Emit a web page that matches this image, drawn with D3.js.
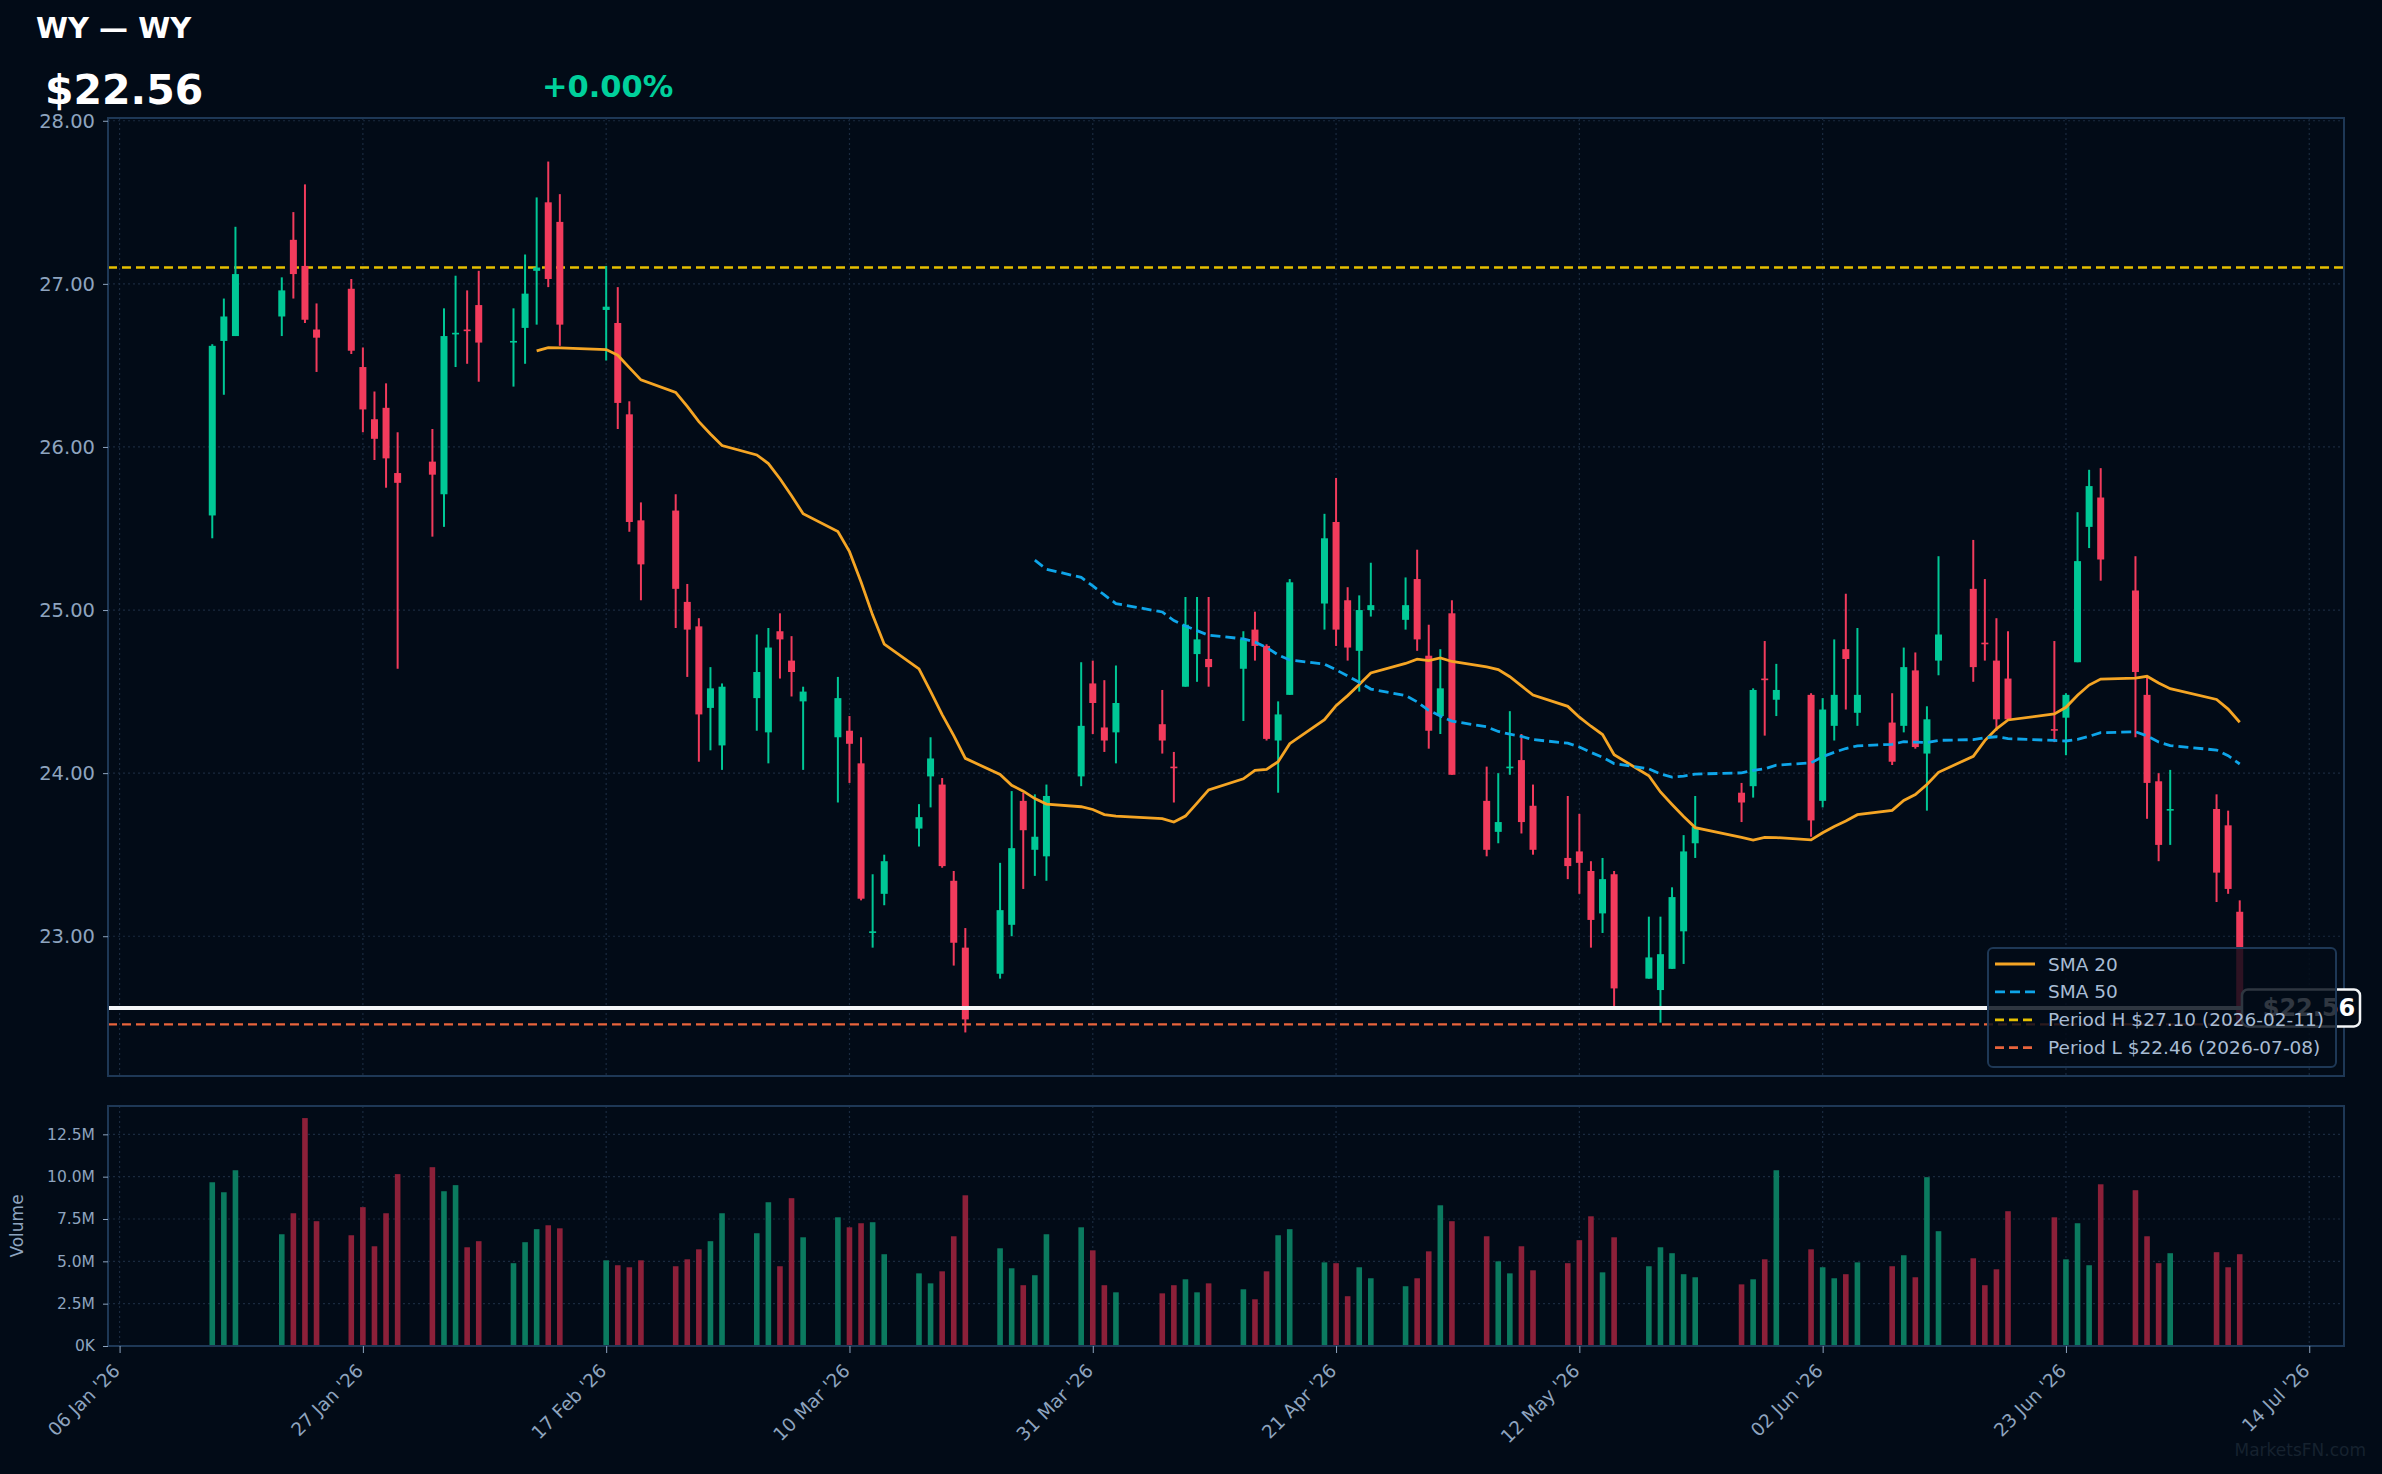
<!DOCTYPE html>
<html>
<head>
<meta charset="utf-8">
<title>WY candlestick</title>
<script src="https://cdn.jsdelivr.net/npm/d3@7"></script>
<style>
  body { margin: 0; padding: 0; background: #020b17; }
  svg { display: block; font-family: "DejaVu Sans", sans-serif; }
</style>
</head>
<body>
<svg id="chart" width="2382" height="1474"></svg>
<script>
// ---- data ----
const symbol = "WY";
const lastPrice = 22.56;
const changePct = 0.00;
const periodHigh = 27.10, periodHighDate = "2026-02-11";
const periodLow = 22.46, periodLowDate = "2026-07-08";

const dates = [
  "2026-01-14","2026-01-15","2026-01-16","2026-01-20","2026-01-21","2026-01-22","2026-01-23",
  "2026-01-26","2026-01-27","2026-01-28","2026-01-29","2026-01-30",
  "2026-02-02","2026-02-03","2026-02-04","2026-02-05","2026-02-06",
  "2026-02-09","2026-02-10","2026-02-11","2026-02-12","2026-02-13",
  "2026-02-17","2026-02-18","2026-02-19","2026-02-20",
  "2026-02-23","2026-02-24","2026-02-25","2026-02-26","2026-02-27",
  "2026-03-02","2026-03-03","2026-03-04","2026-03-05","2026-03-06",
  "2026-03-09","2026-03-10","2026-03-11","2026-03-12","2026-03-13",
  "2026-03-16","2026-03-17","2026-03-18","2026-03-19","2026-03-20",
  "2026-03-23","2026-03-24","2026-03-25","2026-03-26","2026-03-27",
  "2026-03-30","2026-03-31","2026-04-01","2026-04-02",
  "2026-04-06","2026-04-07","2026-04-08","2026-04-09","2026-04-10",
  "2026-04-13","2026-04-14","2026-04-15","2026-04-16","2026-04-17",
  "2026-04-20","2026-04-21","2026-04-22","2026-04-23","2026-04-24",
  "2026-04-27","2026-04-28","2026-04-29","2026-04-30","2026-05-01",
  "2026-05-04","2026-05-05","2026-05-06","2026-05-07","2026-05-08",
  "2026-05-11","2026-05-12","2026-05-13","2026-05-14","2026-05-15",
  "2026-05-18","2026-05-19","2026-05-20","2026-05-21","2026-05-22",
  "2026-05-26","2026-05-27","2026-05-28","2026-05-29",
  "2026-06-01","2026-06-02","2026-06-03","2026-06-04","2026-06-05",
  "2026-06-08","2026-06-09","2026-06-10","2026-06-11","2026-06-12",
  "2026-06-15","2026-06-16","2026-06-17","2026-06-18",
  "2026-06-22","2026-06-23","2026-06-24","2026-06-25","2026-06-26",
  "2026-06-29","2026-06-30","2026-07-01","2026-07-02",
  "2026-07-06","2026-07-07","2026-07-08"
];

const opens = [
  25.58,26.65,26.68,26.80,27.27,27.11,26.72,26.97,26.49,26.17,26.24,25.84,
  25.91,25.71,26.69,26.72,26.87,26.64,26.73,27.08,27.50,27.38,
  26.84,26.76,26.20,25.55,25.61,25.05,24.90,24.40,24.17,
  24.46,24.25,24.87,24.69,24.44,24.22,24.26,24.06,23.02,23.26,
  23.66,23.98,23.93,23.34,22.93,22.77,23.07,23.83,23.53,23.49,
  23.98,24.55,24.28,24.25,24.30,24.04,24.53,24.73,24.70,
  24.64,24.88,24.78,24.20,24.48,25.04,25.54,25.06,24.75,25.00,
  24.94,25.19,24.72,24.35,24.98,23.83,23.64,24.03,24.08,23.80,
  23.48,23.52,23.40,23.14,23.38,22.74,22.67,22.80,23.03,23.57,
  23.88,23.92,24.58,24.45,24.48,23.83,24.29,24.76,24.37,
  24.31,24.29,24.63,24.12,24.69,25.13,24.80,24.69,24.58,
  24.27,24.34,24.68,25.51,25.69,25.12,24.48,23.95,23.77,23.78,23.68,23.15
];
const highs = [
  26.63,26.91,27.35,27.04,27.44,27.61,26.88,27.03,26.61,26.34,26.39,26.09,
  26.11,26.85,27.05,26.96,27.08,26.85,27.18,27.53,27.75,27.55,
  27.11,26.98,26.28,25.66,25.71,25.16,24.95,24.65,24.55,
  24.85,24.89,24.98,24.84,24.53,24.59,24.35,24.22,23.38,23.50,
  23.81,24.22,23.97,23.40,23.05,23.45,23.89,23.88,23.87,23.93,
  24.68,24.69,24.57,24.66,24.51,24.13,25.08,25.08,25.08,
  24.87,24.99,24.79,24.44,25.19,25.59,25.81,25.14,25.09,25.29,
  25.20,25.37,24.91,24.76,25.06,24.04,24.00,24.38,24.24,23.93,
  23.86,23.75,23.46,23.48,23.40,23.12,23.12,23.30,23.62,23.86,
  23.94,24.52,24.81,24.67,24.49,24.46,24.82,25.10,24.89,
  24.49,24.77,24.74,24.41,25.33,25.43,25.19,24.95,24.87,
  24.81,24.49,25.60,25.86,25.87,25.33,24.59,24.00,24.02,23.87,23.77,23.22
];
const lows = [
  25.44,26.32,26.68,26.68,26.91,26.76,26.46,26.57,26.09,25.92,25.75,24.64,
  25.45,25.51,26.49,26.51,26.40,26.37,26.51,26.75,26.98,26.62,
  26.53,26.11,25.48,25.06,24.89,24.59,24.07,24.14,24.02,
  24.26,24.06,24.58,24.47,24.02,23.82,23.94,23.22,22.93,23.19,
  23.55,23.79,23.42,22.82,22.41,22.74,23.00,23.29,23.37,23.34,
  23.92,24.24,24.13,24.06,24.12,23.82,24.53,24.56,24.53,
  24.32,24.69,24.20,23.88,24.48,24.88,24.78,24.69,24.50,24.96,
  24.88,24.75,24.15,24.24,23.99,23.49,23.57,23.99,23.63,23.50,
  23.35,23.26,22.93,23.02,22.57,22.74,22.47,22.80,22.83,23.48,
  23.70,23.85,24.23,24.35,23.61,23.79,24.20,24.39,24.29,
  24.05,24.25,24.15,23.77,24.60,24.56,24.69,24.26,24.33,
  24.19,24.11,24.68,25.38,25.18,24.22,23.72,23.46,23.56,23.21,23.26,22.46
];
const closes = [
  26.62,26.80,27.06,26.96,27.06,26.78,26.67,26.59,26.23,26.05,25.93,25.78,
  25.83,26.68,26.70,26.71,26.64,26.65,26.94,27.10,27.03,26.75,
  26.86,26.27,25.54,25.28,25.13,24.88,24.36,24.52,24.53,
  24.62,24.77,24.82,24.62,24.50,24.46,24.18,23.23,23.03,23.46,
  23.73,24.09,23.43,22.96,22.49,23.16,23.54,23.65,23.61,23.86,
  24.29,24.43,24.20,24.43,24.20,24.03,24.91,24.82,24.65,
  24.82,24.78,24.21,24.36,25.17,25.44,24.88,24.77,25.00,25.03,
  25.03,24.82,24.26,24.52,23.99,23.53,23.70,24.04,23.70,23.53,
  23.43,23.45,23.10,23.35,22.68,22.87,22.89,23.24,23.52,23.67,
  23.82,24.51,24.57,24.51,23.71,24.39,24.48,24.70,24.48,
  24.07,24.65,24.16,24.33,24.85,24.65,24.79,24.33,24.33,
  24.26,24.48,25.30,25.76,25.31,24.62,23.94,23.56,23.78,23.39,23.29,22.46
];
// volume in millions of shares
const volumes = [
  9.67,9.08,10.38,6.60,7.84,13.46,7.37,6.54,8.20,5.89,7.84,10.15,
  10.56,9.14,9.50,5.83,6.19,4.89,6.13,6.90,7.13,6.95,
  5.06,4.77,4.65,5.06,4.71,5.12,5.71,6.19,7.84,
  6.66,8.49,4.71,8.73,6.42,7.60,7.01,7.25,7.31,5.42,
  4.29,3.70,4.41,6.48,8.90,5.77,4.59,3.59,4.18,6.60,
  7.01,5.65,3.59,3.17,3.11,3.59,3.94,3.17,3.70,
  3.35,2.76,4.41,6.54,6.90,4.94,4.89,2.94,4.65,4.00,
  3.53,4.00,5.59,8.31,7.37,6.48,5.00,4.29,5.89,4.47,
  4.89,6.25,7.66,4.35,6.42,4.71,5.83,5.48,4.24,4.06,
  3.64,3.94,5.12,10.38,5.71,4.65,4.00,4.24,4.94,
  4.71,5.36,4.06,9.97,6.78,5.18,3.59,4.53,7.96,
  7.60,5.12,7.25,4.77,9.55,9.20,6.48,4.89,5.48,5.54,4.65,5.42
];

const xTickDates = ["2026-01-06","2026-01-27","2026-02-17","2026-03-10","2026-03-31",
                    "2026-04-21","2026-05-12","2026-06-02","2026-06-23","2026-07-14"];
const priceTicks = [23, 24, 25, 26, 27, 28];
const volumeTicks = [0, 2.5, 5, 7.5, 10, 12.5];

// ---- layout ----
const W = 2382, H = 1474;
const L = 108, R = 2344;
const pTop = 118, pBot = 1076;
const vTop = 1106, vBot = 1346;

const C = {
  bg: "#020b17", frame: "#1e3856", grid: "#1a2a3f", text: "#8ea4bf",
  up: "#00c896", down: "#f23b5c", volUp: "#0b7a5f", volDown: "#8c2039",
  sma20: "#f5a524", sma50: "#0ea5e9", hi: "#e6c000", lo: "#e8643c"
};

const parse = d3.utcParse("%Y-%m-%d");
const rows = dates.map((d, i) => ({
  date: parse(d), o: opens[i], h: highs[i], l: lows[i], c: closes[i], v: volumes[i]
}));

function sma(n) {
  return closes.map((c, i) => i < n - 1 ? null : d3.mean(closes.slice(i - n + 1, i + 1)));
}
const sma20 = sma(20), sma50 = sma(50);

const svg = d3.select("#chart");
svg.append("rect").attr("width", W).attr("height", H).attr("fill", C.bg);

// scales
const pad = 9 * 864e5;
const x = d3.scaleUtc()
  .domain([+rows[0].date - pad, +rows[rows.length - 1].date + pad])
  .range([L, R]);
const lo = d3.min(lows), hi = d3.max(highs), m = (hi - lo) * 0.05;
const y = d3.scaleLinear().domain([lo - m, hi + m]).range([pBot, pTop]);
const yv = d3.scaleLinear().domain([0, d3.max(volumes) * 1.053]).range([vBot, vTop]);

const xTicks = xTickDates.map(parse);
const fmtX = d3.utcFormat("%d %b '%y");

// grid
const grid = svg.append("g").attr("stroke", C.grid).attr("stroke-width", 1.2)
  .attr("stroke-dasharray", "2,3");
grid.selectAll(".gy").data(priceTicks).join("line")
  .attr("x1", L).attr("x2", R).attr("y1", d => y(d)).attr("y2", d => y(d));
grid.selectAll(".gv").data(volumeTicks.slice(1)).join("line")
  .attr("x1", L).attr("x2", R).attr("y1", d => yv(d)).attr("y2", d => yv(d));
grid.selectAll(".gx").data(xTicks).join("line")
  .attr("x1", d => x(d)).attr("x2", d => x(d)).attr("y1", pTop).attr("y2", pBot);
grid.selectAll(".gx2").data(xTicks).join("line")
  .attr("x1", d => x(d)).attr("x2", d => x(d)).attr("y1", vTop).attr("y2", vBot);

// period high / low lines
svg.append("line").attr("x1", L).attr("x2", R).attr("y1", y(periodHigh)).attr("y2", y(periodHigh))
  .attr("stroke", C.hi).attr("stroke-width", 2.5).attr("stroke-dasharray", "9,5");
svg.append("line").attr("x1", L).attr("x2", R).attr("y1", y(periodLow)).attr("y2", y(periodLow))
  .attr("stroke", C.lo).attr("stroke-width", 2.2).attr("stroke-dasharray", "9,5");

// candles
const cg = svg.append("g");
cg.selectAll("line").data(rows).join("line")
  .attr("x1", d => x(d.date)).attr("x2", d => x(d.date))
  .attr("y1", d => y(d.h)).attr("y2", d => y(d.l))
  .attr("stroke", d => d.c >= d.o ? C.up : C.down).attr("stroke-width", 2);
cg.selectAll("rect").data(rows).join("rect")
  .attr("x", d => x(d.date) - 3.5).attr("width", 7)
  .attr("y", d => y(Math.max(d.o, d.c)))
  .attr("height", d => Math.max(1.5, Math.abs(y(d.o) - y(d.c))))
  .attr("fill", d => d.c >= d.o ? C.up : C.down);

// moving averages
const line = d3.line().defined(d => d[1] != null).x(d => x(d[0])).y(d => y(d[1]));
svg.append("path").datum(rows.map((r, i) => [r.date, sma20[i]]))
  .attr("d", line).attr("fill", "none").attr("stroke", C.sma20).attr("stroke-width", 2.8);
svg.append("path").datum(rows.map((r, i) => [r.date, sma50[i]]))
  .attr("d", line).attr("fill", "none").attr("stroke", C.sma50).attr("stroke-width", 2.8)
  .attr("stroke-dasharray", "10,5");

// last price line
svg.append("line").attr("x1", L).attr("x2", R).attr("y1", y(lastPrice)).attr("y2", y(lastPrice))
  .attr("stroke", "#f4f6f8").attr("stroke-width", 4);

// volume bars
svg.append("g").selectAll("rect").data(rows).join("rect")
  .attr("x", d => x(d.date) - 2.8).attr("width", 5.6)
  .attr("y", d => yv(d.v)).attr("height", d => vBot - yv(d.v))
  .attr("fill", d => d.c >= d.o ? C.volUp : C.volDown);

// frames
svg.append("rect").attr("x", L).attr("y", pTop).attr("width", R - L).attr("height", pBot - pTop)
  .attr("fill", "none").attr("stroke", C.frame).attr("stroke-width", 2);
svg.append("rect").attr("x", L).attr("y", vTop).attr("width", R - L).attr("height", vBot - vTop)
  .attr("fill", "none").attr("stroke", C.frame).attr("stroke-width", 2);

// y axes
const pAxis = svg.append("g").attr("transform", `translate(${L},0)`)
  .call(d3.axisLeft(y).tickValues(priceTicks).tickFormat(d3.format(".2f")).tickSize(5).tickPadding(8));
const vAxis = svg.append("g").attr("transform", `translate(${L},0)`)
  .call(d3.axisLeft(yv).tickValues(volumeTicks)
    .tickFormat(d => d === 0 ? "0K" : d3.format(".1f")(d) + "M").tickSize(5).tickPadding(8));
[pAxis, vAxis].forEach(a => {
  a.select(".domain").remove();
  a.selectAll(".tick line").attr("stroke", C.text);
  a.selectAll(".tick text").attr("fill", C.text).attr("font-family", "DejaVu Sans");
});
pAxis.selectAll(".tick text").attr("font-size", 19.5);
vAxis.selectAll(".tick text").attr("font-size", 15.5);

// x axis
const xAxis = svg.append("g").attr("transform", `translate(0,${vBot})`)
  .call(d3.axisBottom(x).tickValues(xTicks).tickFormat(fmtX).tickSize(7));
xAxis.select(".domain").remove();
xAxis.selectAll(".tick line").attr("stroke", C.text);
xAxis.selectAll(".tick text")
  .attr("fill", C.text).attr("font-size", 18.5).attr("font-family", "DejaVu Sans")
  .attr("text-anchor", "end").attr("dy", null).attr("y", null)
  .attr("transform", "translate(1,26) rotate(-45)");

svg.append("text").attr("transform", `translate(23,${(vTop + vBot) / 2}) rotate(-90)`)
  .attr("text-anchor", "middle").attr("fill", C.text).attr("font-size", 17).text("Volume");

// price label on the right (partly under the legend, as in the source)
const ly = y(lastPrice);
svg.append("rect").attr("x", 2242).attr("y", ly - 18.5).attr("width", 118).attr("height", 37)
  .attr("rx", 6).attr("fill", C.bg).attr("stroke", "#f4f6f8").attr("stroke-width", 2.5);
svg.append("text").attr("x", 2309).attr("y", ly + 8.5).attr("text-anchor", "middle")
  .attr("fill", "#ffffff").attr("font-weight", "bold").attr("font-size", 24)
  .text("$" + d3.format(".2f")(lastPrice));

// legend
const leg = svg.append("g");
leg.append("rect").attr("x", 1988).attr("y", 948).attr("width", 348).attr("height", 119)
  .attr("rx", 5).attr("fill", C.bg).attr("fill-opacity", 0.82)
  .attr("stroke", C.frame).attr("stroke-width", 2);
const items = [
  { label: "SMA 20", color: C.sma20, dash: null },
  { label: "SMA 50", color: C.sma50, dash: "10,5" },
  { label: `Period H $${periodHigh.toFixed(2)} (${periodHighDate})`, color: C.hi, dash: "9,5" },
  { label: `Period L $${periodLow.toFixed(2)} (${periodLowDate})`, color: C.lo, dash: "9,5" }
];
items.forEach((it, i) => {
  const yy = 964 + i * 27.9;
  leg.append("line").attr("x1", 1995).attr("x2", 2035).attr("y1", yy).attr("y2", yy)
    .attr("stroke", it.color).attr("stroke-width", 2.8).attr("stroke-dasharray", it.dash);
  leg.append("text").attr("x", 2048).attr("y", yy + 6.5).attr("fill", "#a8bcd4")
    .attr("font-size", 18.5).text(it.label);
});

// header
svg.append("text").attr("x", 36).attr("y", 38).attr("fill", "#ffffff")
  .attr("font-weight", "bold").attr("font-size", 29).text(`${symbol} \u2014 ${symbol}`);
svg.append("text").attr("x", 45).attr("y", 104).attr("fill", "#ffffff")
  .attr("font-weight", "bold").attr("font-size", 41).text("$" + d3.format(".2f")(lastPrice));
svg.append("text").attr("x", 542).attr("y", 97).attr("fill", "#00d09c")
  .attr("font-weight", "bold").attr("font-size", 30.5)
  .text((changePct >= 0 ? "+" : "") + d3.format(".2f")(changePct) + "%");

// watermark
svg.append("text").attr("x", 2366).attr("y", 1456).attr("text-anchor", "end")
  .attr("fill", "#16222f").attr("font-size", 17).text("MarketsFN.com");
</script>
</body>
</html>
